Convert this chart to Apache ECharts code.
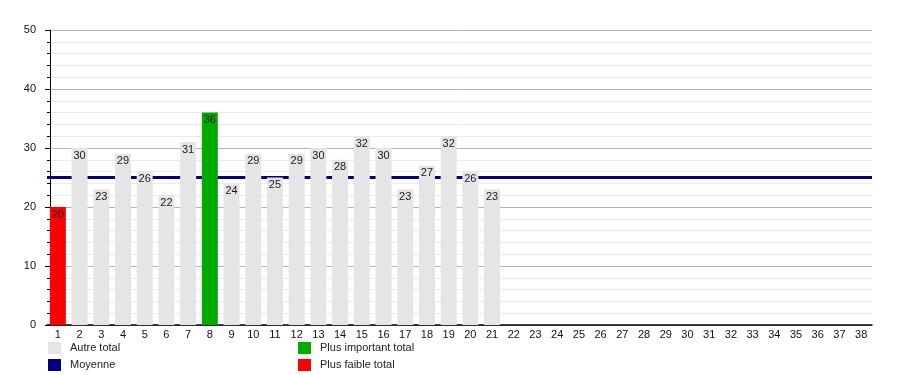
<!DOCTYPE html>
<html>
<head>
<meta charset="utf-8">
<script src="https://cdn.jsdelivr.net/npm/echarts@6/dist/echarts.min.js"></script>
<style>html,body{margin:0;padding:0;background:#fff;}#c{width:900px;height:375px;}</style>
</head>
<body>
<div id="c"></div>
<script>
var categories = [];
for (var i = 1; i <= 38; i++) categories.push(String(i));
var totals = [20, 30, 23, 29, 26, 22, 31, 36, 24, 29, 25, 29, 30, 28, 32, 30, 23, 27, 32, 26, 23];
var average = 25;
var seriesNames = ['Autre total', 'Moyenne', 'Plus important total', 'Plus faible total'];
var colors = { other: '#e5e5e5', avg: '#000080', max: '#00aa00', min: '#ff0000' };

var maxV = Math.max.apply(null, totals), minV = Math.min.apply(null, totals);
var maxI = totals.indexOf(maxV), minI = totals.indexOf(minV);
var otherData = [], maxData = [], minData = [];
for (var k = 0; k < categories.length; k++) {
  var v = k < totals.length ? totals[k] : '-';
  otherData.push(k === maxI || k === minI ? '-' : v);
  maxData.push(k === maxI ? v : '-');
  minData.push(k === minI ? v : '-');
}
var font = 'Liberation Sans, Arial, sans-serif';
var lbl = { show: true, position: 'insideTop', distance: 2, color: '#1a1a1a', fontSize: 11, fontFamily: font };
function barSeries(name, data, color) {
  return { name: name, type: 'bar', data: data, barWidth: 16, barGap: '-100%', z: 3,
    itemStyle: { color: color }, label: lbl, emphasis: { disabled: true } };
}
var legendBase = { orient: 'vertical', top: 342, icon: 'rect', itemWidth: 13, itemHeight: 12, itemGap: 5, padding: 0,
  textStyle: { fontSize: 11, color: '#222', fontFamily: font, padding: [0, 0, 0, 4] } };
var chart = echarts.init(document.getElementById('c'), null, { renderer: 'canvas' });
chart.setOption({
  animation: false,
  textStyle: { fontFamily: font },
  grid: { left: 47, right: 28, top: 30, bottom: 50, containLabel: false },
  legend: [
    Object.assign({}, legendBase, { data: [seriesNames[0], seriesNames[1]], left: 48 }),
    Object.assign({}, legendBase, { data: [seriesNames[2], seriesNames[3]], left: 298 })
  ],
  xAxis: {
    type: 'category', data: categories,
    axisLine: { lineStyle: { color: '#000', width: 1.5 } },
    axisTick: { show: false },
    axisLabel: { interval: 0, color: '#111', fontSize: 11, fontFamily: font, margin: 4 }
  },
  yAxis: {
    type: 'value', min: 0, max: 50, interval: 10, offset: -3,
    axisLine: { show: true, lineStyle: { color: '#000', width: 1 } },
    axisTick: { show: true, length: 5, lineStyle: { color: '#000' } },
    minorTick: { show: true, splitNumber: 5, length: 3, lineStyle: { color: '#000' } },
    axisLabel: { color: '#111', fontSize: 11, fontFamily: font, margin: 14 },
    splitLine: { show: true, lineStyle: { color: '#b4b4b4', width: 1 } },
    minorSplitLine: { show: true, lineStyle: { color: '#ebebeb', width: 1 } }
  },
  series: [
    barSeries(seriesNames[0], otherData, colors.other),
    { name: seriesNames[1], type: 'line', data: [], z: 1, itemStyle: { color: colors.avg },
      lineStyle: { color: colors.avg },
      markLine: { silent: true, symbol: 'none', z: 1, label: { show: false },
        lineStyle: { color: colors.avg, width: 3, type: 'solid' },
        data: [{ yAxis: average }] } },
    barSeries(seriesNames[2], maxData, colors.max),
    barSeries(seriesNames[3], minData, colors.min)
  ]
});
</script>
</body>
</html>
